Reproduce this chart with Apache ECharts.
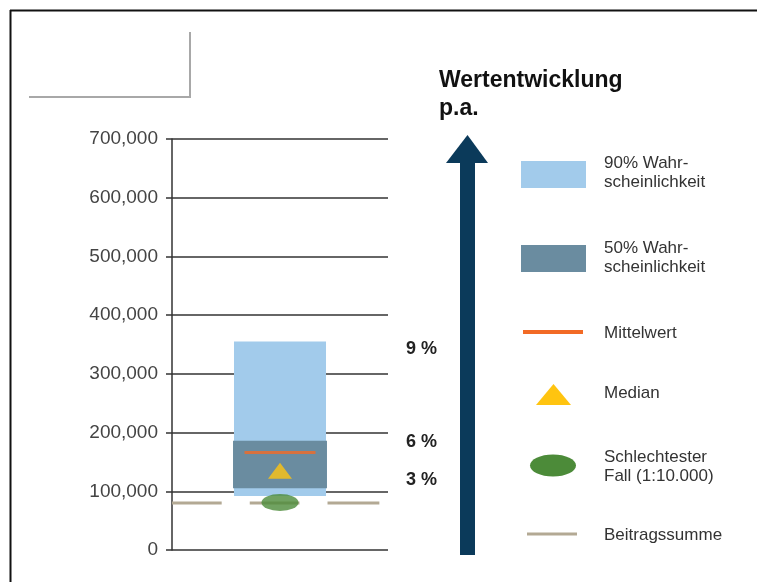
<!DOCTYPE html>
<html>
<head>
<meta charset="utf-8">
<script src="https://cdn.jsdelivr.net/npm/echarts@6/dist/echarts.min.js"></script>
<style>
html,body{margin:0;padding:0;background:#fff;}
#c{width:757px;height:582px;}
</style>
</head>
<body>
<div id="c"></div>
<script>
// ---- data ----
const categories = [''];
const yTicks = [0, 100000, 200000, 300000, 400000, 500000, 600000, 700000];
const band90 = [92000, 355000];      // 90% Wahrscheinlichkeit (low, high)
const band50 = [105000, 186000];     // 50% Wahrscheinlichkeit (low, high)
const meanValue = 166000;            // Mittelwert
const medianValue = 135000;          // Median
const worstValue = 81000;            // Schlechtester Fall (1:10.000)
const contributionSum = 80000;       // Beitragssumme
const returnLabels = ['9 %', '6 %', '3 %'];
const legendLabels = ['90% Wahr-\nscheinlichkeit', '50% Wahr-\nscheinlichkeit', 'Mittelwert', 'Median', 'Schlechtester\nFall (1:10.000)', 'Beitragssumme'];
const titleText = 'Wertentwicklung\np.a.';

const C90 = '#A2CBEB', C50 = '#6A8CA0', CMEAN = '#F26A25', CMED = '#FFC410', CWORST = '#4C8B39', CSUM = '#B3A994', CARROW = '#0B3A5A';
const FONT = '"Liberation Sans", Arial, sans-serif';

const chart = echarts.init(document.getElementById('c'), null, {renderer: 'canvas'});

function boxRender(color, frac) {
  return function (params, api) {
    const x = api.value(0);
    const p0 = api.coord([x, api.value(1)]);
    const p1 = api.coord([x, api.value(2)]);
    const bw = api.size([1, 0])[0] * frac;
    return {type: 'rect', shape: {x: p0[0] - bw / 2, y: p1[1], width: bw, height: p0[1] - p1[1]}, style: {fill: color}};
  };
}

function sumLineRender(params, api) {
  const cs = params.coordSys;
  const y = api.coord([0, api.value(1)])[1];
  const segs = [[0, 0.23], [0.36, 0.59], [0.72, 0.96]];
  return {
    type: 'group',
    children: segs.map(s => ({
      type: 'line',
      shape: {x1: cs.x + cs.width * s[0], y1: y, x2: cs.x + cs.width * s[1], y2: y},
      style: {stroke: CSUM, lineWidth: 3}
    }))
  };
}

const lx = 604;
function legendText(txt, y) {
  return {type: 'text', left: lx, top: y, style: {text: txt, font: '17px ' + FONT, fill: '#333', lineHeight: 19}};
}

chart.setOption({
  animation: false,
  backgroundColor: '#fff',
  grid: {left: 172, top: 139, width: 216, height: 411},
  xAxis: {
    type: 'category', data: categories,
    axisLine: {show: false}, axisTick: {show: false}, axisLabel: {show: false}
  },
  yAxis: {
    type: 'value', min: 0, max: 700000, interval: 100000,
    axisLine: {show: true, lineStyle: {color: '#333', width: 1.5}},
    axisTick: {show: true, length: 6, lineStyle: {color: '#333', width: 1.5}},
    axisLabel: {
      margin: 14, color: '#444', fontFamily: FONT, fontSize: 19,
      formatter: v => yTicks.includes(v) ? v.toLocaleString('en-US') : ''
    },
    splitLine: {show: true, lineStyle: {color: '#333', width: 1.5}}
  },
  series: [
    {type: 'custom', renderItem: boxRender(C90, 0.426), data: [[0, band90[0], band90[1]]], z: 2},
    {type: 'custom', renderItem: boxRender(C50, 0.435), data: [[0, band50[0], band50[1]]], z: 3},
    {type: 'custom', renderItem: sumLineRender, data: [[0, contributionSum]], z: 4},
    {type: 'scatter', symbol: 'rect', symbolSize: [71, 3], itemStyle: {color: CMEAN}, data: [[0, meanValue]], z: 5},
    {type: 'scatter', symbol: 'triangle', symbolSize: [24, 16], itemStyle: {color: CMED}, data: [[0, medianValue]], z: 5},
    {type: 'scatter', symbol: 'circle', symbolSize: [37, 17], itemStyle: {color: CWORST}, data: [[0, worstValue]], z: 6}
  ],
  graphic: [
    // frame
    {type: 'line', shape: {x1: 10, y1: 10.5, x2: 757, y2: 10.5}, style: {stroke: '#111', lineWidth: 2}},
    {type: 'line', shape: {x1: 10.5, y1: 10, x2: 10.5, y2: 582}, style: {stroke: '#111', lineWidth: 2}},
    // grey L
    {type: 'polyline', shape: {points: [[190, 32], [190, 97], [29, 97]]}, style: {stroke: '#A8A8A8', lineWidth: 2, fill: null}},
    // arrow
    {type: 'rect', shape: {x: 460, y: 160, width: 15, height: 395}, style: {fill: CARROW}},
    {type: 'polygon', shape: {points: [[467.5, 135], [488, 163], [446, 163]]}, style: {fill: CARROW}},
    // title
    {type: 'text', left: 439, top: 67, style: {text: titleText, font: 'bold 23px ' + FONT, fill: '#111', lineHeight: 28}},
    // return labels
    {type: 'text', left: 406, top: 340, style: {text: returnLabels[0], font: 'bold 18px ' + FONT, fill: '#222'}},
    {type: 'text', left: 406, top: 433, style: {text: returnLabels[1], font: 'bold 18px ' + FONT, fill: '#222'}},
    {type: 'text', left: 406, top: 471, style: {text: returnLabels[2], font: 'bold 18px ' + FONT, fill: '#222'}},
    // legend
    {type: 'rect', shape: {x: 521, y: 161, width: 65, height: 27}, style: {fill: C90}},
    legendText(legendLabels[0], 154),
    {type: 'rect', shape: {x: 521, y: 245, width: 65, height: 27}, style: {fill: C50}},
    legendText(legendLabels[1], 239),
    {type: 'rect', shape: {x: 523, y: 330, width: 60, height: 4}, style: {fill: CMEAN}},
    legendText(legendLabels[2], 324),
    {type: 'polygon', shape: {points: [[553.5, 384], [571, 405], [536, 405]]}, style: {fill: CMED}},
    legendText(legendLabels[3], 384),
    {type: 'ellipse', shape: {cx: 553, cy: 465.5, rx: 23, ry: 11}, style: {fill: CWORST}},
    legendText(legendLabels[4], 448),
    {type: 'rect', shape: {x: 527, y: 532.5, width: 50, height: 3}, style: {fill: CSUM}},
    legendText(legendLabels[5], 526)
  ]
});
</script>
</body>
</html>
